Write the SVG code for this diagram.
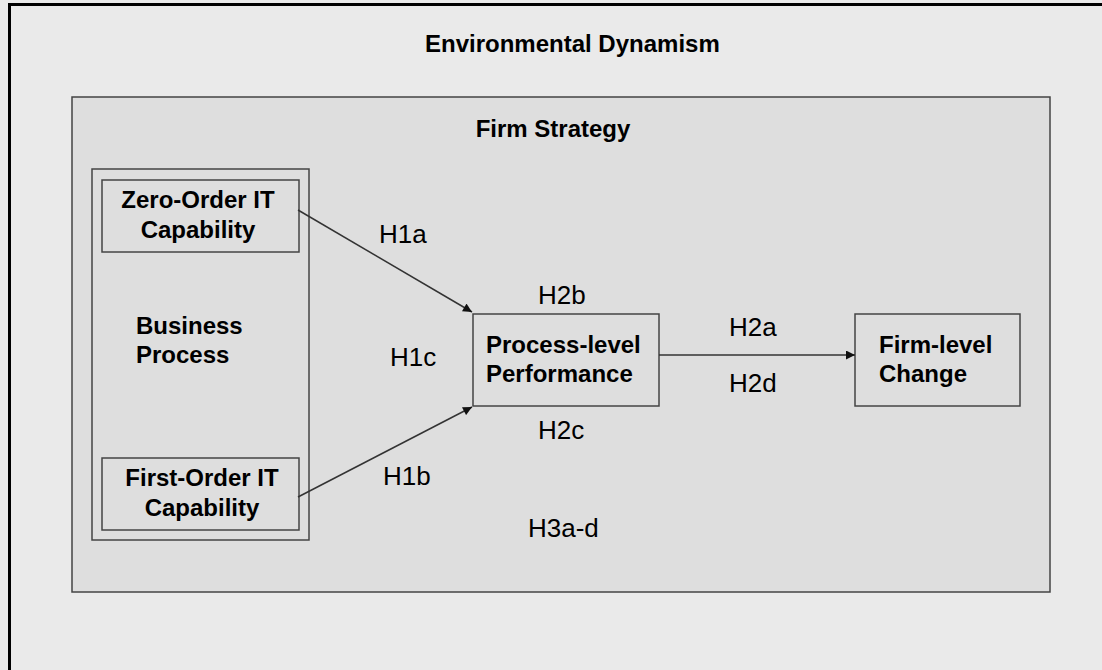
<svg xmlns="http://www.w3.org/2000/svg" width="1102" height="670" viewBox="0 0 1102 670">
<style>
.b{font-family:"Liberation Sans",Arial,sans-serif;font-weight:bold;font-size:24px;fill:#000}
.h{font-family:"Liberation Sans",Arial,sans-serif;font-size:26px;fill:#000}
.box{fill:#dedede;stroke:#444;stroke-width:1.5}
.c{stroke:#333;stroke-width:1.5;fill:none;marker-end:url(#ah)}
</style>
<defs>
<marker id="ah" viewBox="0 0 10 10" refX="10" refY="5" markerWidth="10" markerHeight="9" markerUnits="userSpaceOnUse" orient="auto">
<path d="M0,0 L10,5 L0,10 z" fill="#111"/>
</marker>
</defs>
<rect x="0" y="0" width="1102" height="670" fill="#eaeaea"/>
<path d="M9.5,670 V4.5 H1102" fill="none" stroke="#000" stroke-width="3"/>
<g id="env">
<text class="b" x="425" y="52">Environmental Dynamism</text>
</g>
<g id="firm-strategy">
<rect class="box" x="72" y="97" width="978" height="495"/>
<text class="b" x="553" y="137" text-anchor="middle">Firm Strategy</text>
</g>
<g id="business-process">
<rect class="box" x="92" y="169" width="217" height="371"/>
<text class="b" x="136" y="334">Business</text>
<text class="b" x="136" y="363">Process</text>
</g>
<g id="zero-order">
<rect class="box" x="102" y="180" width="197" height="72"/>
<text class="b" x="198" y="208" text-anchor="middle">Zero-Order IT</text>
<text class="b" x="198" y="238" text-anchor="middle">Capability</text>
</g>
<g id="first-order">
<rect class="box" x="102" y="458" width="197" height="72"/>
<text class="b" x="202" y="486" text-anchor="middle">First-Order IT</text>
<text class="b" x="202" y="516" text-anchor="middle">Capability</text>
</g>
<g id="process-level">
<rect class="box" x="473" y="314" width="186" height="92"/>
<text class="b" x="486" y="353">Process-level</text>
<text class="b" x="486" y="382">Performance</text>
</g>
<g id="firm-level">
<rect class="box" x="855" y="314" width="165" height="92"/>
<text class="b" x="879" y="353">Firm-level</text>
<text class="b" x="879" y="382">Change</text>
</g>
<g id="connectors">
<line class="c" x1="298" y1="210" x2="472" y2="312"/>
<line class="c" x1="298" y1="497" x2="472" y2="407"/>
<line class="c" x1="659" y1="355" x2="855" y2="355"/>
</g>
<g id="labels">
<text class="h" x="379" y="243">H1a</text>
<text class="h" x="538" y="304">H2b</text>
<text class="h" x="390" y="366">H1c</text>
<text class="h" x="729" y="336">H2a</text>
<text class="h" x="729" y="392">H2d</text>
<text class="h" x="538" y="439">H2c</text>
<text class="h" x="383" y="485">H1b</text>
<text class="h" x="528" y="537">H3a-d</text>
</g>
</svg>
